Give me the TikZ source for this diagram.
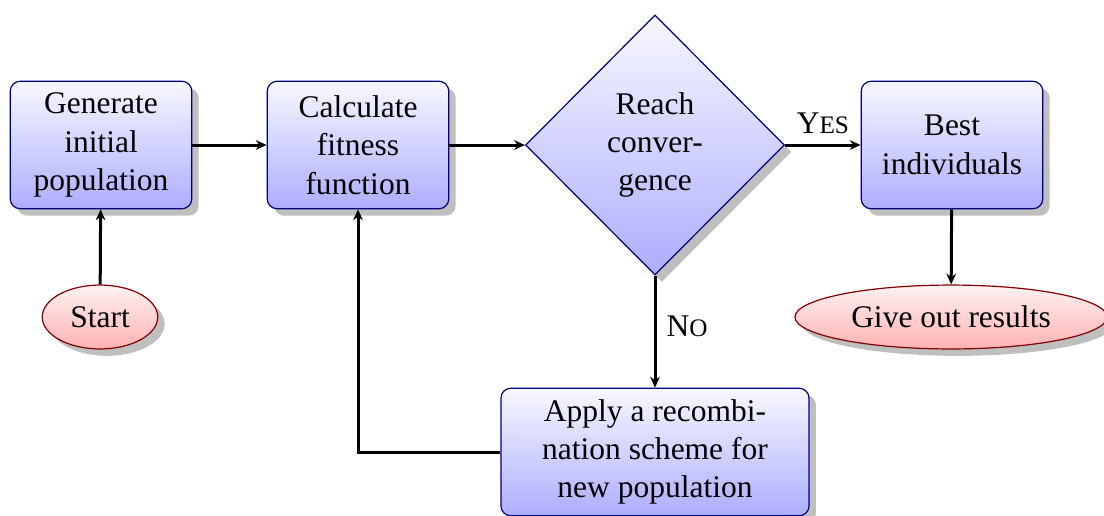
\documentclass[tikz,border=0pt]{standalone}
\usepackage{fontspec}
\setmainfont{Liberation Serif}
\usetikzlibrary{shapes.geometric,shadows,arrows.meta}
\begin{document}
\begin{tikzpicture}[x=0.3333pt,y=-0.3333pt,
  txt/.style={font=\rmfamily\fontsize{10.5}{12.8}\selectfont},
  box/.style={txt, rectangle, rounded corners=3.3pt, draw=blue!50!black, top color=blue!3, bottom color=blue!32, drop shadow, align=center, inner sep=0pt, minimum width=60.5pt, minimum height=42.5pt},
  decision/.style={txt, diamond, draw=blue!50!black, top color=blue!3, bottom color=blue!32, drop shadow, align=center, inner sep=0pt, minimum width=86.3pt, minimum height=86.7pt},
  terminal/.style={txt, ellipse, draw=red!50!black, top color=red!5, bottom color=red!30, drop shadow, align=center, inner sep=0pt, minimum height=21.3pt},
  conn/.style={line width=1pt, -{Stealth[length=3.6pt,width=3.2pt]}},
  lbl/.style={txt}
]
\useasboundingbox (0,0) rectangle (1104,515);
\node[box] (gen) at (101,145) {Generate\\initial\\population};
\node[box] (fit) at (358,145) {Calculate\\fitness\\function};
\node[decision] (conv) at (655,145) {Reach\\conver-\\gence};
\node[box] (best) at (952,145) {Best\\individuals};
\node[terminal, minimum width=38.5pt] (start) at (100,317) {Start};
\node[terminal, minimum width=104pt] (res) at (951,317) {Give out results};
\node[box, minimum width=102.7pt] (apply) at (655,452) {Apply a recombi-\\nation scheme for\\new population};
\draw[conn] (start) -- (gen);
\draw[conn] (gen) -- (fit);
\draw[conn] (fit) -- (conv);
\draw[conn] (conv) -- node[lbl, above] {Y{\fontsize{8.4}{10}\selectfont ES}} (best);
\draw[conn] (best) -- (res);
\draw[conn] (conv) -- node[lbl, right, pos=0.45] {N{\fontsize{8.4}{10}\selectfont O}} (apply);
\draw[conn] (apply.west) -| (fit.south);
\end{tikzpicture}
\end{document}
